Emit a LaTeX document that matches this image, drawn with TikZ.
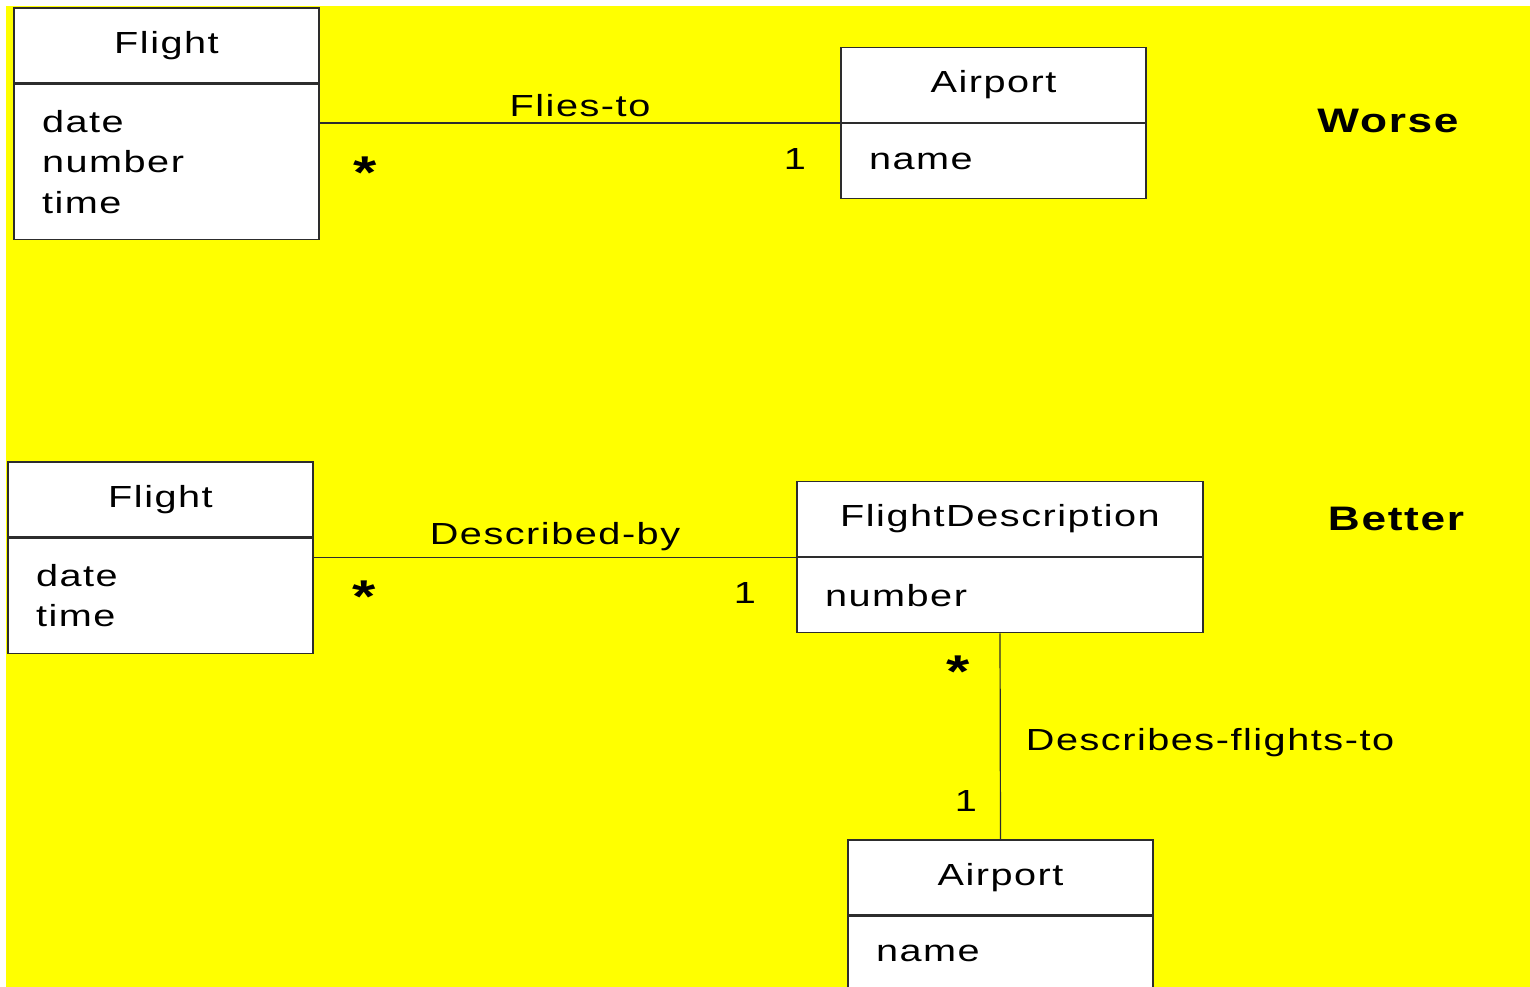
\documentclass[tikz,border=0pt]{standalone}
\usepackage{fontspec}
\setmainfont{Liberation Sans}[FakeStretch=1.3,LetterSpace=5]
\usetikzlibrary{positioning}
\definecolor{sheet}{RGB}{255,255,0}
\definecolor{ink}{RGB}{45,45,45}

\begin{document}
\begin{tikzpicture}[x=1pt,y=-1pt,font=\fontsize{30.5}{40.5}\selectfont,
  cls/.style={draw=ink,line width=1.2pt,fill=white,minimum width=305pt,minimum height=75pt,inner sep=0pt},
  att/.style={cls,align=left,text width=249pt,inner xsep=28pt,below=0pt of #1},
  asc/.style={line width=1.2pt,ink},
  lbl/.style={inner sep=0pt,text=black},
  mul/.style={inner sep=0pt,text=black},
  star/.style={mul,font=\fontsize{46}{46}\selectfont\bfseries},
  tag/.style={font=\fontsize{34}{40}\selectfont\bfseries,anchor=base}]
\useasboundingbox (0,0) rectangle (1530,987);
\fill[sheet] (6,6) rectangle (1530,987);
% number kept on Flight
\node[cls] (fl1) at (166.5,45.5) {Flight};
\node[att=fl1,minimum height=155pt] (fl1at) {date\\number\\time};
\node[cls] (ap1) at (993.5,85) {Airport};
\node[att=ap1] (ap1at) {name};
\draw[asc] (fl1at.east |- ap1.south) -- node[lbl,above=6pt]{Flies-to} (ap1at.north west);
\node[star] (m1) at (365,173) {*};
\node[mul] (m2) at (795,159) {1};
\node[tag] (worse) at (1388,133) {Worse};
% number moved to FlightDescription
\node[cls] (fl2) at (160.5,499.5) {Flight};
\node[att=fl2,minimum height=115pt] (fl2at) {date\\time};
\node[cls,minimum width=406pt] (fd) at (1000,519) {FlightDescription};
\node[att=fd,text width=350pt] (fdat) {number};
\node[cls] (ap2) at (1000.5,877.5) {Airport};
\node[att=ap2] (ap2at) {name};
\draw[asc] (fl2at.east |- fd.south) -- node[lbl,above=6pt]{Described-by} (fdat.north west);
\draw[asc] (fdat.south) -- node[lbl,right=25pt,yshift=-6pt]{Describes-flights-to} (ap2.north);
\node[star] (m3) at (364,597) {*};
\node[mul] (m4) at (745,593) {1};
\node[star] (m5) at (958,672) {*};
\node[mul] (m6) at (966,801) {1};
\node[tag] (better) at (1396,530) {Better};
\end{tikzpicture}
\end{document}
